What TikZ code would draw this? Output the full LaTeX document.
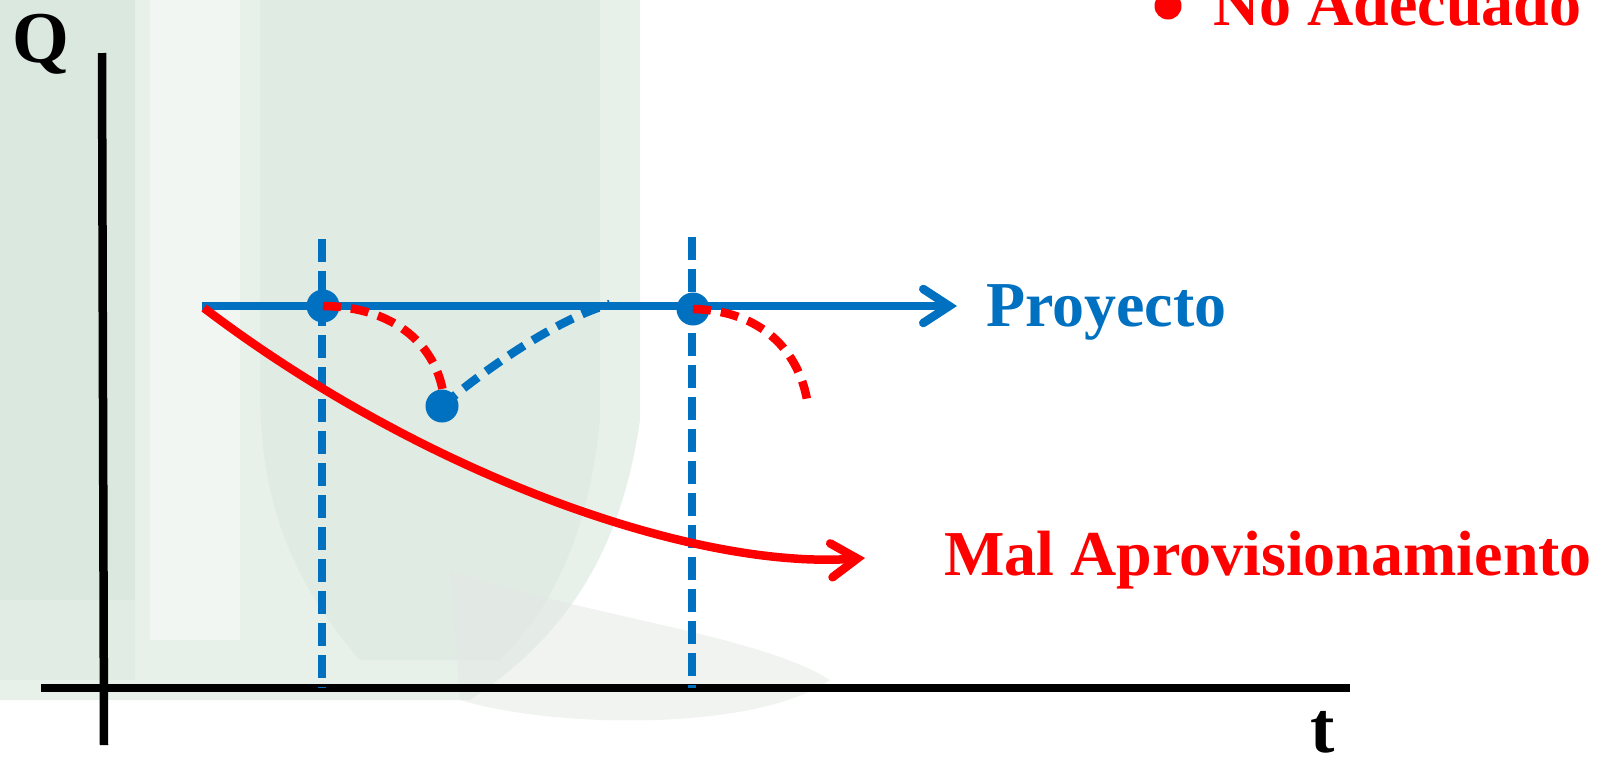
\documentclass[tikz,border=0pt]{standalone}
\usepackage{fontspec}
\setmainfont{Liberation Serif}
\usetikzlibrary{arrows.meta}
\definecolor{pblue}{RGB}{0,112,192}
\definecolor{pred}{RGB}{255,0,0}
\definecolor{bggreen}{RGB}{218,232,223}
\definecolor{bglight}{RGB}{232,240,234}
\definecolor{bggray}{RGB}{228,231,228}
\tikzset{
  axisline/.style={line width=8.5pt, black},
  bluemain/.style={line width=8.5pt, pblue},
  redmain/.style={line width=8.5pt, pred},
  bluedash/.style={line width=8.5pt, pblue, dash pattern=on 23pt off 9pt},
  reddash/.style={line width=8.5pt, pred, dash pattern=on 18pt off 10pt},
  bluedash2/.style={line width=8.5pt, pblue, dash pattern=on 18pt off 10pt},
  dotnode/.style={circle, fill=pblue, inner sep=0pt, minimum size=33pt},
  lbl/.style={inner sep=0pt, font=\fontsize{64}{64}\selectfont\bfseries},
  axlbl/.style={inner sep=0pt, font=\fontsize{73}{73}\selectfont\bfseries},
  barb/.style={-{Straight Barb[length=26pt,width=34pt,line cap=round]}},
}
\begin{document}
\begin{tikzpicture}[x=1pt,y=-1pt]
\useasboundingbox (0,0) rectangle (1597,756);
% faint background watermark
\fill[bglight] (0,0) -- (640,0) -- (640,420) .. controls (620,560) and (560,640) .. (470,700) -- (0,700) -- cycle;
\fill[bggreen] (0,0) rectangle (135,600);
\fill[bggreen!50!bglight] (0,600) rectangle (135,680);
\fill[white, opacity=0.45] (150,0) rectangle (240,640);
\fill[bggreen!70!bglight, opacity=0.8] (260,0) -- (600,0) -- (600,420) .. controls (590,520) and (560,600) .. (500,660) -- (360,660) .. controls (290,580) and (262,500) .. (260,400) -- cycle;
\fill[bggray, opacity=0.5] (450,570) .. controls (580,615) and (760,635) .. (830,680) .. controls (760,730) and (560,730) .. (460,700) -- cycle;
% axes
\coordinate (yt) at (102,53);
\coordinate (yb) at (104,745);
\coordinate (xl) at (41,688);
\coordinate (xr) at (1350,688);
\draw[axisline] (yt) -- (yb);
\draw[axisline] (xl) -- (xr);
\node[axlbl, anchor=base west] (Q) at (12,62) {Q};
\node[axlbl, anchor=base west] (t) at (1310,752) {t};
% dashed verticals
\coordinate (v1t) at (322,239);
\coordinate (v1b) at (322,688);
\coordinate (v2t) at (692,237);
\coordinate (v2b) at (692,688);
\draw[bluedash] (v1t) -- (v1b);
\draw[bluedash] (v2t) -- (v2b);
% project line
\coordinate (ps) at (202,306);
\coordinate (pe) at (957,306);
\draw[bluemain, barb] (ps) -- (pe);
\node[lbl, text=pblue, anchor=base west] (proy) at (986,326) {Proyecto};
% bad supply curve
\coordinate (me) at (865,558);
\draw[redmain, barb] (204,308) .. controls (420,472) and (690,570) .. (me);
\node[lbl, text=pred, anchor=base west] (mal) at (944,575) {Mal Aprovisionamiento};
% dots
\node[dotnode] (d1) at (323,306) {};
\node[dotnode] (d2) at (693,309) {};
\node[dotnode] (d3) at (442,406) {};
\coordinate (r2e) at (808,406);
\coordinate (be) at (610,304);
\draw[reddash] (d1.center) .. controls (400,307) and (436,350) .. (443,392);
\draw[reddash] (d2.center) .. controls (770,311) and (802,360) .. (r2e);
\draw[bluedash2] (d3.center) .. controls (490,365) and (560,318) .. (be);
% legend bullet
\fill[pred] (1168,6) circle (13.5);
\node[lbl, text=pred, anchor=base west] (noad) at (1213,25) {No Adecuado};
\end{tikzpicture}
\end{document}
